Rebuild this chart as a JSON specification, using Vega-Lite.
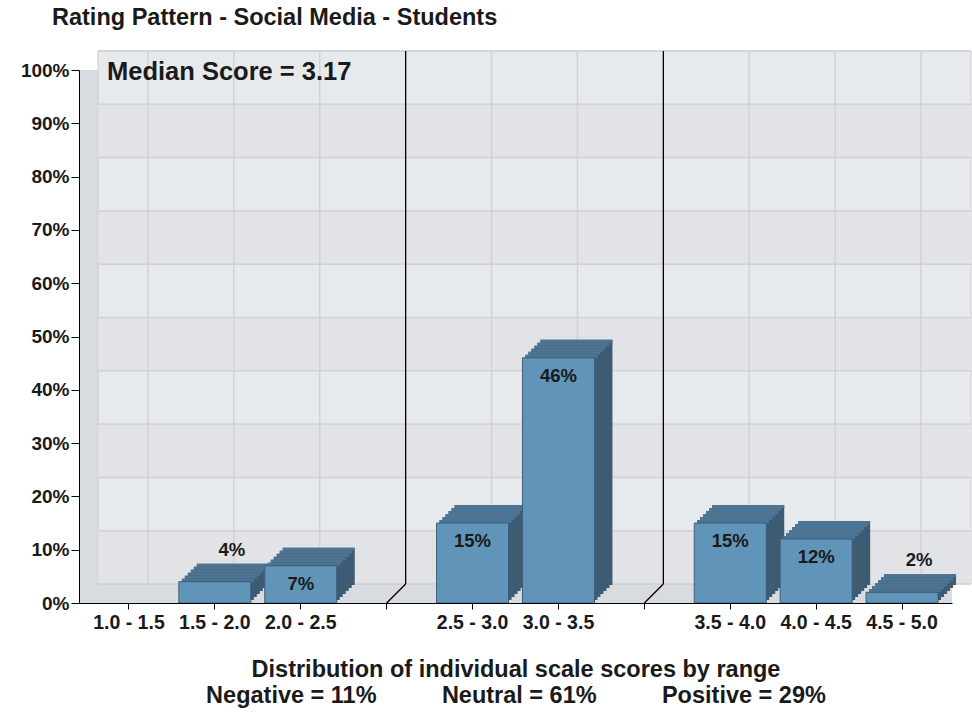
{
  "$schema": "https://vega.github.io/schema/vega-lite/v6.json",
  "width": 873,
  "height": 533,
  "autosize": "none",
  "padding": {"left": 79, "top": 70, "right": 20, "bottom": 111},
  "background": "white",
  "title": {
    "text": "Rating Pattern - Social Media - Students",
    "anchor": "start",
    "frame": "group",
    "dx": -27,
    "offset": 21,
    "fontSize": 23.5,
    "font": "Liberation Sans",
    "fontWeight": "bold",
    "color": "#1a1a1a"
  },
  "config": {
    "view": {"fill": "#d8dbdf", "stroke": null},
    "font": "Liberation Sans"
  },
  "datasets": {
    "bars": [
      {"range": "1.0 - 1.5", "pct": 0},
      {"range": "1.5 - 2.0", "pct": 4},
      {"range": "2.0 - 2.5", "pct": 7},
      {"range": "2.5 - 3.0", "pct": 15},
      {"range": "3.0 - 3.5", "pct": 46},
      {"range": "3.5 - 4.0", "pct": 15},
      {"range": "4.0 - 4.5", "pct": 12},
      {"range": "4.5 - 5.0", "pct": 2}
    ],
    "grid": [{"v": 0}, {"v": 10}, {"v": 20}, {"v": 30}, {"v": 40}, {"v": 50}, {"v": 60}, {"v": 70}, {"v": 80}, {"v": 90}, {"v": 100}],
    "bands": [{"lo": 0, "hi": 10}, {"lo": 20, "hi": 30}, {"lo": 40, "hi": 50}, {"lo": 60, "hi": 70}, {"lo": 80, "hi": 90}],
    "seps": [{"range": "gap1"}, {"range": "gap2"}],
    "one": [{"label": "Median Score = 3.17"}]
  },
  "encoding": {
    "x": {
      "field": "range",
      "type": "nominal",
      "sort": null,
      "scale": {
        "domain": ["1.0 - 1.5", "1.5 - 2.0", "2.0 - 2.5", "gap1", "2.5 - 3.0", "3.0 - 3.5", "gap2", "3.5 - 4.0", "4.0 - 4.5", "4.5 - 5.0"],
        "paddingInner": 0.162,
        "paddingOuter": 0.1625
      },
      "axis": {
        "labelExpr": "indexof(datum.label, 'gap') >= 0 ? '' : datum.label",
        "labelAngle": 0,
        "labelFontSize": 19.5,
        "labelFontWeight": "bold",
        "labelColor": "#1a1a1a",
        "labelPadding": 4,
        "tickSize": 6,
        "tickColor": "#000000",
        "domainColor": "#000000",
        "grid": false,
        "title": ["Distribution of individual scale scores by range", "Negative = 11%\u00a0\u00a0\u00a0\u00a0\u00a0\u00a0\u00a0\u00a0\u00a0\u00a0Neutral = 61%\u00a0\u00a0\u00a0\u00a0\u00a0\u00a0\u00a0\u00a0\u00a0\u00a0Positive = 29%"],
        "titleFontSize": 23.5,
        "titleFontWeight": "bold",
        "titleColor": "#1a1a1a",
        "titleLineHeight": 26,
        "titlePadding": 26
      }
    }
  },
  "layer": [
    {
      "data": {"name": "one"},
      "mark": {"type": "rect", "fill": "#e7eaed", "stroke": "#c9cbce", "strokeWidth": 1, "xOffset": 5, "x2Offset": 33, "yOffset": -19, "y2Offset": -19},
      "encoding": {
        "x": {"datum": "1.0 - 1.5", "bandPosition": 0},
        "x2": {"datum": "4.5 - 5.0", "bandPosition": 1},
        "y": {"datum": 0, "type": "quantitative", "scale": {"domain": [0, 100], "nice": false}},
        "y2": {"datum": 100}
      }
    },
    {
      "data": {"name": "bands"},
      "mark": {"type": "rect", "fill": "#e1e3e6", "xOffset": 5, "x2Offset": 33, "yOffset": -19, "y2Offset": -19},
      "encoding": {
        "x": {"datum": "1.0 - 1.5", "bandPosition": 0},
        "x2": {"datum": "4.5 - 5.0", "bandPosition": 1},
        "y": {"field": "lo", "type": "quantitative"},
        "y2": {"field": "hi"}
      }
    },
    {
      "data": {"name": "grid"},
      "mark": {"type": "rule", "color": "#d0d2d5", "strokeWidth": 1.5, "xOffset": 5, "x2Offset": 33, "yOffset": -19, "y2Offset": -19},
      "encoding": {
        "x": {"datum": "1.0 - 1.5", "bandPosition": 0},
        "x2": {"datum": "4.5 - 5.0", "bandPosition": 1},
        "y": {"field": "v", "type": "quantitative"}
      }
    },
    {
      "data": {"name": "bars"},
      "mark": {"type": "rule", "color": "#d0d2d5", "strokeWidth": 1.5, "xOffset": 19, "yOffset": -19, "y2Offset": -19},
      "encoding": {
        "y": {"datum": 0, "type": "quantitative"},
        "y2": {"datum": 100}
      }
    },
    {
      "data": {"name": "seps"},
      "mark": {"type": "rule", "color": "#000000", "strokeWidth": 1.3, "xOffset": 19, "yOffset": -19, "y2Offset": -19},
      "encoding": {
        "y": {"datum": 0, "type": "quantitative"},
        "y2": {"datum": 100}
      }
    },
    {
      "data": {"name": "seps"},
      "mark": {"type": "rule", "color": "#000000", "strokeWidth": 1.3, "x2Offset": 19, "y2Offset": -19},
      "encoding": {
        "x2": {"field": "range"},
        "y": {"datum": 0, "type": "quantitative"},
        "y2": {"datum": 0}
      }
    },
    {
      "data": {"name": "bars"},
      "transform": [{"filter": "datum.pct > 0"}],
      "mark": {"type": "bar", "color": "#3e5b74", "xOffset": 18, "x2Offset": 18, "yOffset": -18, "y2Offset": -18},
      "encoding": {"y": {"field": "pct", "type": "quantitative"}, "y2": {"datum": 0}}
    },
    {
      "data": {"name": "bars"},
      "transform": [{"filter": "datum.pct > 0"}],
      "mark": {"type": "bar", "color": "#3e5b74", "xOffset": 15, "x2Offset": 15, "yOffset": -15, "y2Offset": -15},
      "encoding": {"y": {"field": "pct", "type": "quantitative"}, "y2": {"datum": 0}}
    },
    {
      "data": {"name": "bars"},
      "transform": [{"filter": "datum.pct > 0"}],
      "mark": {"type": "bar", "color": "#3e5b74", "xOffset": 12, "x2Offset": 12, "yOffset": -12, "y2Offset": -12},
      "encoding": {"y": {"field": "pct", "type": "quantitative"}, "y2": {"datum": 0}}
    },
    {
      "data": {"name": "bars"},
      "transform": [{"filter": "datum.pct > 0"}],
      "mark": {"type": "bar", "color": "#3e5b74", "xOffset": 9, "x2Offset": 9, "yOffset": -9, "y2Offset": -9},
      "encoding": {"y": {"field": "pct", "type": "quantitative"}, "y2": {"datum": 0}}
    },
    {
      "data": {"name": "bars"},
      "transform": [{"filter": "datum.pct > 0"}],
      "mark": {"type": "bar", "color": "#3e5b74", "xOffset": 6, "x2Offset": 6, "yOffset": -6, "y2Offset": -6},
      "encoding": {"y": {"field": "pct", "type": "quantitative"}, "y2": {"datum": 0}}
    },
    {
      "data": {"name": "bars"},
      "transform": [{"filter": "datum.pct > 0"}],
      "mark": {"type": "bar", "color": "#3e5b74", "xOffset": 3, "x2Offset": 3, "yOffset": -3, "y2Offset": -3},
      "encoding": {"y": {"field": "pct", "type": "quantitative"}, "y2": {"datum": 0}}
    },
    {
      "data": {"name": "bars"},
      "transform": [{"filter": "datum.pct > 0"}],
      "mark": {"type": "bar", "color": "#4e7493", "xOffset": 18, "x2Offset": 18, "yOffset": -18, "y2Offset": -15},
      "encoding": {"y": {"field": "pct", "type": "quantitative"}, "y2": {"field": "pct"}}
    },
    {
      "data": {"name": "bars"},
      "transform": [{"filter": "datum.pct > 0"}],
      "mark": {"type": "bar", "color": "#4e7493", "xOffset": 15, "x2Offset": 15, "yOffset": -15, "y2Offset": -12},
      "encoding": {"y": {"field": "pct", "type": "quantitative"}, "y2": {"field": "pct"}}
    },
    {
      "data": {"name": "bars"},
      "transform": [{"filter": "datum.pct > 0"}],
      "mark": {"type": "bar", "color": "#4e7493", "xOffset": 12, "x2Offset": 12, "yOffset": -12, "y2Offset": -9},
      "encoding": {"y": {"field": "pct", "type": "quantitative"}, "y2": {"field": "pct"}}
    },
    {
      "data": {"name": "bars"},
      "transform": [{"filter": "datum.pct > 0"}],
      "mark": {"type": "bar", "color": "#4e7493", "xOffset": 9, "x2Offset": 9, "yOffset": -9, "y2Offset": -6},
      "encoding": {"y": {"field": "pct", "type": "quantitative"}, "y2": {"field": "pct"}}
    },
    {
      "data": {"name": "bars"},
      "transform": [{"filter": "datum.pct > 0"}],
      "mark": {"type": "bar", "color": "#4e7493", "xOffset": 6, "x2Offset": 6, "yOffset": -6, "y2Offset": -3},
      "encoding": {"y": {"field": "pct", "type": "quantitative"}, "y2": {"field": "pct"}}
    },
    {
      "data": {"name": "bars"},
      "transform": [{"filter": "datum.pct > 0"}],
      "mark": {"type": "bar", "color": "#4e7493", "xOffset": 3, "x2Offset": 3, "yOffset": -3, "y2Offset": 0},
      "encoding": {"y": {"field": "pct", "type": "quantitative"}, "y2": {"field": "pct"}}
    },
    {
      "data": {"name": "bars"},
      "transform": [{"filter": "datum.pct > 0"}],
      "mark": {"type": "bar", "color": "#6094b8", "stroke": "#3e5d78", "strokeWidth": 1},
      "encoding": {
        "y": {"field": "pct", "type": "quantitative"},
        "y2": {"datum": 0}
      }
    },
    {
      "data": {"name": "bars"},
      "transform": [{"filter": "datum.pct >= 5"}, {"calculate": "datum.pct + '%'", "as": "lab"}],
      "mark": {"type": "text", "dy": 18, "fontSize": 18.5, "fontWeight": "bold", "color": "#1a1a1a", "baseline": "middle"},
      "encoding": {
        "y": {"field": "pct", "type": "quantitative"},
        "text": {"field": "lab"}
      }
    },
    {
      "data": {"name": "bars"},
      "transform": [{"filter": "datum.pct > 0 && datum.pct < 5"}, {"calculate": "datum.pct + '%'", "as": "lab"}],
      "mark": {"type": "text", "dx": 17, "dy": -32, "fontSize": 18.5, "fontWeight": "bold", "color": "#1a1a1a", "baseline": "middle"},
      "encoding": {
        "y": {"field": "pct", "type": "quantitative"},
        "text": {"field": "lab"}
      }
    },
    {
      "data": {"name": "one"},
      "mark": {"type": "text", "align": "left", "baseline": "middle", "dx": 14, "dy": 2, "fontSize": 25.5, "fontWeight": "bold", "color": "#1a1a1a"},
      "encoding": {
        "x": {"datum": "1.0 - 1.5", "bandPosition": 0},
        "y": {"datum": 100, "type": "quantitative"},
        "text": {"field": "label"}
      }
    },
    {
      "data": {"name": "grid"},
      "mark": {"type": "point", "opacity": 0},
      "encoding": {
        "x": {"datum": "1.0 - 1.5"},
        "y": {
          "field": "v",
          "type": "quantitative",
          "axis": {
            "values": [0, 10, 20, 30, 40, 50, 60, 70, 80, 90, 100],
            "labelExpr": "datum.value + '%'",
            "labelFontSize": 19,
            "labelFontWeight": "bold",
            "labelColor": "#1a1a1a",
            "labelPadding": 2,
            "tickSize": 8,
            "tickColor": "#000000",
            "domainColor": "#000000",
            "grid": false,
            "title": null
          }
        }
      }
    }
  ]
}
